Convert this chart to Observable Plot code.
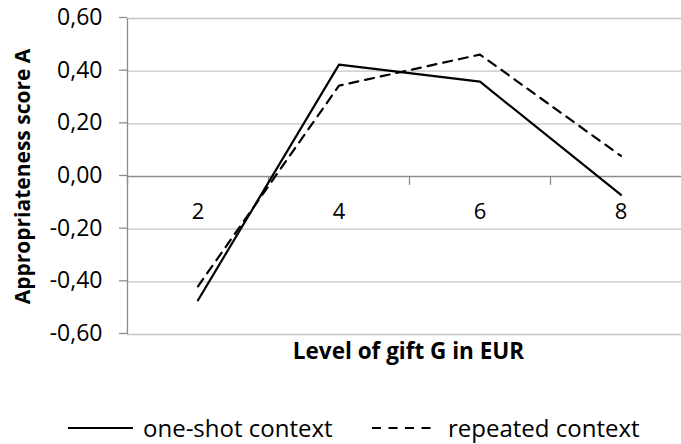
<!DOCTYPE html>
<html>
<head>
<meta charset="utf-8">
<script src="https://cdn.jsdelivr.net/npm/d3@7"></script>
<script src="https://cdn.jsdelivr.net/npm/@observablehq/plot@0.6"></script>
<style>
  html, body { margin: 0; padding: 0; background: #fff; overflow: hidden; }
  #wrap { width: 681px; font-family: "Open Sans", sans-serif; }
  #legend { position: relative; width: 681px; height: 59px; font-size: 24px; color: #000; }
  #legend svg { position: absolute; overflow: visible; }
  #legend .lbl { position: absolute; top: 27px; line-height: 32px; white-space: nowrap; }
</style>
</head>
<body>
<div id="wrap"></div>
<script>
// ---- data ----
const gifts = [2, 4, 6, 8];
const oneShot = [-0.47, 0.425, 0.36, -0.07];
const repeated = [-0.417, 0.345, 0.463, 0.078];
const yTicks = [-0.6, -0.4, -0.2, 0, 0.2, 0.4, 0.6];
const xBoundaries = [1, 3, 5, 7];
const seriesNames = ["one-shot context", "repeated context"];
const yTitle = "Appropriateness score A";
const xTitle = "Level of gift G in EUR";

const oneShotData = gifts.map((g, i) => ({gift: g, value: oneShot[i]}));
const repeatedData = gifts.map((g, i) => ({gift: g, value: repeated[i]}));

const fmt = d => (d < -1e-9 ? "-" : "") + Math.abs(d).toFixed(2).replace(".", ",");

const font = "Open Sans";
const chart = Plot.plot({
  width: 681,
  height: 385,
  marginLeft: 127,
  marginRight: 0,
  marginTop: 18,
  marginBottom: 51,
  style: {fontFamily: font, background: "#fff", color: "#000"},
  x: {type: "linear", domain: [1, 9], range: [127, 691], axis: null},
  y: {domain: [-0.6, 0.6], axis: null},
  marks: [
    Plot.ruleY(yTicks.filter(d => d !== 0), {stroke: "#c6c6c6", strokeWidth: 1.3}),
    Plot.ruleY([0], {stroke: "#8c8c8c", strokeWidth: 1.3}),
    Plot.ruleX([1], {y1: -0.6, y2: 0.6, stroke: "#8c8c8c", strokeWidth: 1.3}),
    Plot.ruleX(xBoundaries, {y1: 0, y2: -0.034, stroke: "#8c8c8c", strokeWidth: 1.3}),
    Plot.axisY(yTicks, {
      tickSize: 8, tickPadding: 17, tickFormat: fmt, fontSize: 23, dy: -1,
      stroke: "#8c8c8c", strokeWidth: 1.3, fill: "#000", label: null
    }),
    Plot.text(gifts, {x: d => d, y: 0, dy: 35, text: d => String(d), fontSize: 22, fill: "#000"}),
    Plot.line(repeatedData, {x: "gift", y: "value", stroke: "#000", strokeWidth: 2.2, strokeDasharray: "9,7"}),
    Plot.line(oneShotData, {x: "gift", y: "value", stroke: "#000", strokeWidth: 2.2}),
    Plot.text([yTitle], {frameAnchor: "left", textAnchor: "middle", rotate: -90, dx: -104, fontSize: 21, fontWeight: "bold", fill: "#000"}),
    Plot.text([xTitle], {frameAnchor: "bottom", dy: 24, dx: 4, fontSize: 22.5, fontWeight: "bold", fill: "#000"})
  ]
});
const wrap = document.getElementById("wrap");
wrap.appendChild(chart);

// legend
const legend = document.createElement("div");
legend.id = "legend";
legend.innerHTML = `
  <svg style="left:68px;top:42px" width="65" height="2"><line x1="0" x2="65" y1="1" y2="1" stroke="#000" stroke-width="2.2"/></svg>
  <span class="lbl" style="left:143px">${seriesNames[0]}</span>
  <svg style="left:372px;top:42px" width="63" height="2"><line x1="0" x2="63" y1="1" y2="1" stroke="#000" stroke-width="2.2" stroke-dasharray="9,7.5"/></svg>
  <span class="lbl" style="left:448px">${seriesNames[1]}</span>`;
wrap.appendChild(legend);
</script>
</body>
</html>
